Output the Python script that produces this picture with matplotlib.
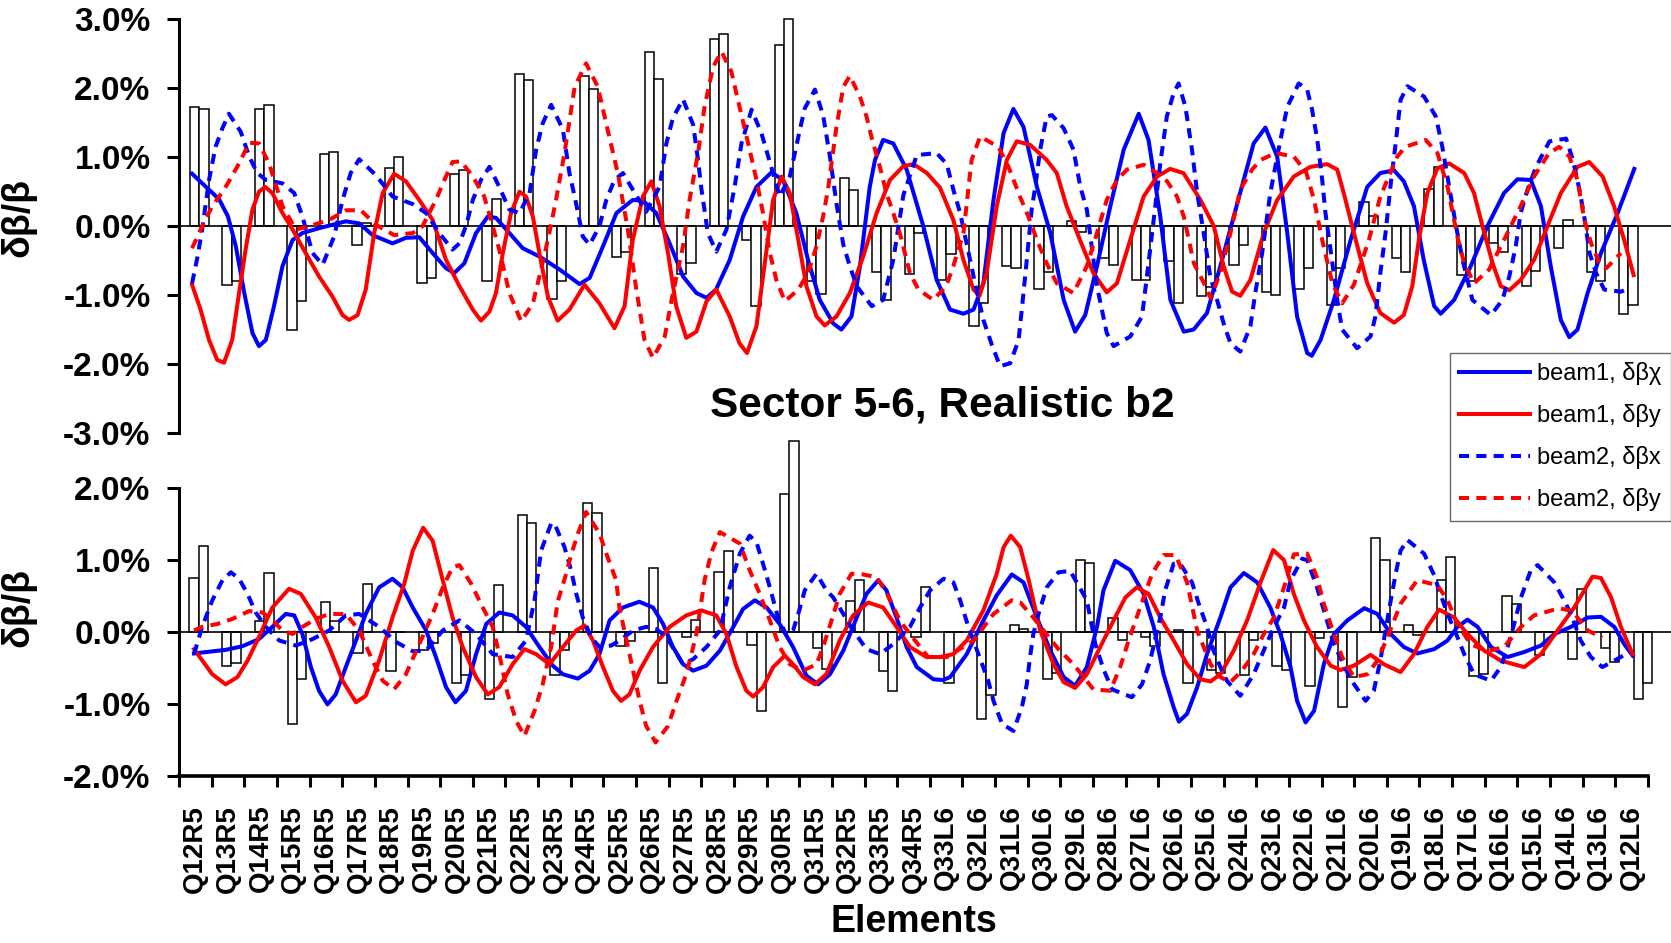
import numpy as np
import matplotlib
matplotlib.use("Agg")
import matplotlib.pyplot as plt
from matplotlib.lines import Line2D

plt.rcParams['font.family'] = ['Liberation Sans', 'DejaVu Sans']

# ---- element names along the sector ----
elements = ["Q12R5", "Q13R5", "Q14R5", "Q15R5", "Q16R5", "Q17R5", "Q18R5", "Q19R5",
            "Q20R5", "Q21R5", "Q22R5", "Q23R5", "Q24R5", "Q25R5", "Q26R5", "Q27R5",
            "Q28R5", "Q29R5", "Q30R5", "Q31R5", "Q32R5", "Q33R5", "Q34R5",
            "Q33L6", "Q32L6", "Q31L6", "Q30L6", "Q29L6", "Q28L6", "Q27L6", "Q26L6",
            "Q25L6", "Q24L6", "Q23L6", "Q22L6", "Q21L6", "Q20L6", "Q19L6", "Q18L6",
            "Q17L6", "Q16L6", "Q15L6", "Q14L6", "Q13L6", "Q12L6"]

# ---- bars (two per element), in % ----
top_bar_a = [1.73, -0.85, 1.70, -1.50, 1.04, -0.27, 0.84, -0.83, 0.75, -0.80, 2.21, -1.05,
             2.18, -0.45, 2.52, -0.69, 2.72, -0.20, 2.63, -0.80, 0.70, -0.67, -0.69, -0.78,
             -1.45, -0.58, -0.91, 0.07, -0.46, -0.78, -0.51, -1.01, -0.57, -0.96, -0.91,
             -1.14, 0.35, -0.46, 0.54, -0.71, -0.25, -0.87, -0.31, -0.67, -1.27]
top_bar_b = [1.70, -0.80, 1.76, -1.09, 1.08, 0.05, 1.00, -0.75, 0.82, 0.39, 2.12, -0.80,
             1.99, -0.38, 2.14, -0.54, 2.79, -1.16, 3.01, -0.98, 0.52, -1.07, -0.10, -0.40,
             -1.12, -0.60, -0.67, -0.08, -0.56, -0.78, -1.12, -0.88, -0.27, -1.00, -0.60,
             -0.60, 0.14, -0.67, 0.86, -0.80, -0.38, -0.65, 0.09, -0.80, -1.14]
bot_bar_a = [0.75, -0.47, 0.15, -1.28, 0.41, -0.29, -0.55, -0.25, -0.71, -0.93, 1.63, -0.60,
             1.79, -0.20, 0.89, -0.07, 0.83, -0.18, 1.92, -0.22, 0.43, -0.55, -0.07, -0.71,
             -1.21, 0.10, -0.66, 1.00, 0.20, -0.07, 0.03, -0.53, -0.60, -0.47, -0.75,
             -1.05, 1.31, 0.10, 0.72, -0.62, 0.50, -0.32, -0.38, -0.23, -0.93]
bot_bar_b = [1.20, -0.43, 0.82, -0.66, 0.15, 0.67, 0.00, -0.16, -0.60, 0.65, 1.52, -0.25,
             1.66, -0.13, -0.71, 0.17, 1.13, -1.10, 2.66, -0.51, 0.72, -0.82, 0.62, 0.00,
             -0.88, 0.04, -0.57, 0.96, -0.11, -0.20, -0.71, -0.57, -0.11, -0.53, -0.09,
             -0.63, 1.00, -0.05, 1.04, -0.58, 0.39, 0.00, 0.60, -0.42, -0.71]

# ---- top panel curves: position along sector (element units), value in % ----
top_b1x_s = [-0.1, 0.73, 1.0, 1.24, 1.5, 1.75, 1.95, 2.16, 2.41, 2.67, 2.98, 3.28, 3.79, 4.61, 5.02,
             5.43, 6.04, 6.45, 6.86, 7.27, 7.68, 7.93, 8.24, 8.6, 8.96, 9.21, 9.62, 10.03, 10.54,
             11.16, 11.77, 12.08, 12.49, 12.9, 13.4, 13.71, 14.12, 14.53, 14.94, 15.35, 15.66,
             15.95, 16.37, 16.78, 17.19, 17.65, 18.0, 18.41, 18.77, 19.13, 19.54, 19.79, 20.1,
             20.36, 20.66, 20.82, 21.07, 21.38, 21.79, 22.3, 22.71, 23.12, 23.53, 23.84, 24.14,
             24.45, 24.76, 25.06, 25.37, 25.78, 26.19, 26.6, 26.95, 27.26, 27.62, 28.03, 28.44,
             28.9, 29.2, 29.56, 29.87, 30.28, 30.58, 30.99, 31.4, 31.81, 32.42, 32.78, 33.14,
             33.45, 33.75, 34.06, 34.2, 34.47, 34.88, 35.39, 35.9, 36.3, 36.72, 37.02, 37.33,
             37.63, 37.95, 38.15, 38.56, 39.07, 39.58, 40.09, 40.5, 40.91, 41.22, 41.52, 41.83,
             42.09, 42.34, 42.65, 43.06, 43.57, 44.08]
top_b1x_v = [0.76, 0.39, 0.14, -0.29, -0.97, -1.55, -1.74, -1.65, -1.16, -0.58, -0.20, -0.10, -0.03,
             0.07, 0.04, -0.13, -0.25, -0.17, -0.16, -0.39, -0.61, -0.68, -0.54, -0.10, 0.14, 0.12,
             -0.10, -0.32, -0.44, -0.63, -0.84, -0.75, -0.29, 0.19, 0.38, 0.37, 0.19, -0.25, -0.73,
             -0.97, -1.04, -0.92, -0.49, 0.14, 0.57, 0.78, 0.67, 0.19, -0.49, -1.07, -1.41, -1.50,
             -1.31, -0.58, 0.57, 0.96, 1.25, 1.20, 0.82, 0.00, -0.78, -1.21, -1.27, -1.21, -0.83,
             0.38, 1.35, 1.70, 1.44, 0.57, -0.10, -1.07, -1.53, -1.29, -0.58, 0.29, 1.11, 1.63,
             1.25, 0.14, -1.07, -1.53, -1.50, -1.26, -0.58, 0.14, 1.20, 1.43, 1.01, -0.10, -1.31,
             -1.84, -1.88, -1.65, -1.07, -0.20, 0.57, 0.77, 0.81, 0.65, 0.29, -0.49, -1.16, -1.27,
             -1.07, -0.58, 0.00, 0.48, 0.68, 0.67, 0.29, -0.58, -1.36, -1.61, -1.50, -0.97, -0.39,
             0.19, 0.83]

top_b1y_s = [-0.1, 0.16, 0.42, 0.67, 0.88, 1.13, 1.34, 1.54, 1.75, 1.95, 2.14, 2.36, 2.67, 2.98,
             3.38, 3.79, 4.2, 4.51, 4.71, 4.97, 5.22, 5.48, 5.74, 6.09, 6.45, 6.86, 7.27, 7.68,
             8.09, 8.5, 8.75, 9.01, 9.21, 9.42, 9.67, 9.93, 10.13, 10.34, 10.54, 10.8, 11.1,
             11.46, 11.92, 12.38, 12.84, 13.15, 13.4, 13.71, 13.97, 14.22, 14.48, 14.73, 15.04,
             15.35, 15.66, 15.96, 16.37, 16.67, 16.9, 17.19, 17.5, 17.7, 17.96, 18.21, 18.47,
             18.72, 19.03, 19.28, 19.64, 20.05, 20.46, 20.87, 21.28, 21.69, 22.0, 22.41, 22.81,
             23.22, 23.53, 23.84, 24.02, 24.24, 24.55, 24.86, 25.16, 25.57, 26.08, 26.39, 26.69,
             27.1, 27.51, 27.92, 28.23, 28.64, 29.05, 29.46, 29.86, 30.27, 30.79, 31.2, 31.5,
             31.76, 32.01, 32.32, 32.73, 33.14, 33.65, 34.16, 34.67, 34.98, 35.18, 35.49, 35.9,
             36.3, 36.72, 37.02, 37.28, 37.48, 37.74, 38.05, 38.41, 38.87, 39.17, 39.43, 39.74,
             39.99, 40.25, 40.6, 41.01, 41.42, 41.83, 42.34, 42.7, 43.11, 43.46, 43.77, 44.06]
top_b1y_v = [-0.85, -1.21, -1.65, -1.94, -1.98, -1.65, -0.97, -0.34, 0.24, 0.50, 0.57, 0.48, 0.19,
             -0.05, -0.39, -0.73, -1.02, -1.29, -1.36, -1.29, -0.92, -0.10, 0.48, 0.76, 0.65, 0.38,
             0.09, -0.49, -0.87, -1.21, -1.37, -1.24, -0.97, -0.39, 0.19, 0.50, 0.43, 0.14, -0.39,
             -1.02, -1.37, -1.21, -0.85, -1.12, -1.48, -1.16, -0.20, 0.43, 0.65, 0.29, -0.39, -1.16,
             -1.62, -1.53, -1.09, -0.92, -1.31, -1.70, -1.84, -1.45, -0.34, 0.38, 0.72, 0.48, -0.20,
             -0.87, -1.31, -1.44, -1.31, -0.97, -0.44, 0.19, 0.67, 0.87, 0.90, 0.77, 0.56, 0.09,
             -0.49, -0.92, -1.01, -0.68, 0.29, 0.96, 1.23, 1.18, 0.96, 0.77, 0.29, -0.20, -0.68,
             -0.96, -0.83, -0.20, 0.43, 0.72, 0.83, 0.77, 0.38, 0.00, -0.58, -0.95, -1.01, -0.78,
             -0.10, 0.38, 0.72, 0.86, 0.90, 0.82, 0.48, -0.10, -0.83, -1.26, -1.40, -1.29, -0.87,
             -0.20, 0.48, 0.84, 0.91, 0.77, 0.48, 0.00, -0.54, -0.87, -0.93, -0.78, -0.49, 0.00,
             0.48, 0.86, 0.93, 0.72, 0.29, -0.20, -0.71]

top_b2x_s = [-0.1, 0.06, 0.21, 0.42, 0.62, 0.83, 1.03, 1.39, 1.65, 1.9, 2.16, 2.67, 3.03, 3.28,
             3.59, 3.9, 4.25, 4.51, 4.76, 5.02, 5.53, 6.04, 6.66, 7.07, 7.47, 7.88, 8.09, 8.29,
             8.5, 8.75, 9.01, 9.31, 9.62, 9.93, 10.24, 10.44, 10.64, 10.9, 11.26, 11.46, 11.62,
             11.87, 12.08, 12.38, 12.59, 12.84, 13.1, 13.4, 13.81, 14.22, 14.43, 14.63, 14.94,
             15.25, 15.4, 15.5, 15.7, 15.96, 16.27, 16.52, 16.73, 17.04, 17.34, 17.55, 17.9,
             18.21, 18.52, 18.67, 18.98, 19.23, 19.44, 19.64, 19.85, 20.05, 20.26, 20.72, 21.07,
             21.38, 21.69, 22.1, 22.71, 23.02, 23.22, 23.43, 23.84, 24.14, 24.4, 24.65, 24.96,
             25.22, 25.32, 25.47, 25.62, 25.73, 25.88, 26.08, 26.24, 26.6, 26.9, 27.11, 27.31,
             27.62, 27.92, 28.13, 28.64, 29.0, 29.25, 29.56, 29.76, 29.97, 30.12, 30.33, 30.53,
             30.69, 30.89, 31.09, 31.3, 31.5, 31.71, 32.01, 32.32, 32.47, 32.68, 32.93, 33.24,
             33.45, 33.8, 34.06, 34.21, 34.37, 34.52, 34.62, 34.83, 34.98, 35.13, 35.59, 36.0,
             36.15, 36.3, 36.46, 36.62, 36.77, 36.92, 37.13, 37.64, 38.0, 38.2, 38.41, 38.62,
             38.82, 39.12, 39.69, 40.04, 40.25, 40.45, 40.6, 40.81, 41.07, 41.48, 41.99, 42.2,
             42.4, 42.53, 42.71, 42.91, 43.16, 43.67, 43.83]
top_b2x_v = [-0.83, -0.46, -0.05, 0.67, 1.15, 1.42, 1.63, 1.37, 1.01, 0.77, 0.67, 0.62, 0.48, 0.14,
             -0.39, -0.56, -0.15, 0.38, 0.77, 0.97, 0.74, 0.43, 0.32, 0.19, -0.10, -0.34, -0.25,
             0.00, 0.38, 0.67, 0.86, 0.57, 0.24, 0.19, 0.48, 1.11, 1.49, 1.76, 1.40, 0.77, 0.43,
             -0.15, -0.27, 0.00, 0.38, 0.67, 0.77, 0.53, 0.21, 0.57, 1.20, 1.57, 1.84, 1.47, 0.96,
             0.55, -0.10, -0.37, -0.05, 0.57, 1.20, 1.69, 1.35, 1.01, 0.43, 0.72, 1.40, 1.71, 1.98,
             1.61, 1.01, 0.33, -0.27, -0.58, -0.87, -1.16, -1.07, -0.49, 0.45, 1.03, 1.06, 0.90,
             0.53, 0.19, -0.73, -1.36, -1.72, -2.03, -1.99, -1.65, -1.20, -0.49, 0.24, 0.57, 1.11,
             1.59, 1.61, 1.42, 1.11, 0.57, 0.24, -0.87, -1.55, -1.74, -1.60, -1.31, -0.34, 0.91,
             1.59, 1.93, 2.07, 1.73, 1.11, 0.48, -0.10, -0.73, -1.07, -1.41, -1.70, -1.82, -1.45,
             -0.97, -0.39, 0.48, 1.25, 1.73, 2.07, 1.98, 1.69, 1.25, 0.67, 0.19, -0.53, -1.07,
             -1.50, -1.77, -1.60, -1.31, -0.68, -0.10, 0.62, 1.20, 1.83, 2.03, 1.88, 1.59, 1.15,
             0.57, 0.00, -0.49, -1.07, -1.29, -1.07, -0.73, -0.29, 0.19, 0.53, 0.86, 1.23, 1.27,
             0.96, 0.53, 0.19, -0.39, -0.68, -0.92, -0.95, -0.92]

top_b2y_s = [-0.1, 0.21, 0.52, 0.88, 1.03, 1.34, 1.65, 1.95, 2.26, 2.67, 3.08, 3.49, 4.1, 4.61,
             5.07, 5.53, 6.09, 6.66, 6.96, 7.37, 7.63, 7.88, 8.14, 8.5, 8.85, 9.11, 9.31, 9.62,
             9.98, 10.34, 10.54, 10.8, 11.05, 11.31, 11.62, 11.97, 12.33, 12.63, 12.94, 13.25,
             13.51, 13.76, 14.02, 14.38, 14.63, 14.94, 15.14, 15.4, 15.6, 15.86, 16.12, 16.42,
             16.73, 16.98, 17.19, 17.39, 17.6, 17.8, 18.06, 18.47, 18.77, 19.03, 19.23, 19.38,
             19.64, 19.85, 20.05, 20.36, 20.56, 20.72, 20.97, 21.17, 21.38, 21.58, 21.89, 22.15,
             22.61, 23.0, 23.22, 23.53, 23.78, 24.04, 24.6, 24.91, 25.26, 25.52, 25.78, 26.08,
             26.39, 26.9, 27.31, 27.62, 27.92, 28.23, 28.54, 29.05, 29.46, 29.77, 30.07, 30.28,
             30.59, 30.9, 31.1, 31.4, 31.71, 32.01, 32.37, 32.63, 33.09, 33.65, 34.03, 34.27,
             34.52, 34.83, 35.13, 35.49, 35.95, 36.3, 36.82, 37.07, 37.69, 38.05, 38.36, 38.66,
             38.87, 39.17, 39.63, 40.09, 40.6, 41.01, 41.47, 41.78, 42.09, 42.34, 42.55, 42.76,
             43.01, 43.22, 43.67]
top_b2y_v = [-0.32, 0.00, 0.29, 0.53, 0.65, 0.91, 1.21, 1.20, 0.91, 0.29, -0.05, 0.00, 0.09, 0.23,
             0.23, 0.02, -0.13, -0.10, 0.00, 0.38, 0.67, 0.93, 0.94, 0.72, 0.43, 0.00, -0.34, -0.97,
             -1.38, -1.12, -0.73, -0.20, 0.38, 1.06, 2.02, 2.36, 2.02, 1.40, 0.77, -0.05, -0.92,
             -1.65, -1.91, -1.60, -0.97, -0.29, 0.38, 1.06, 1.73, 2.31, 2.53, 2.24, 1.61, 1.11,
             0.67, 0.19, -0.39, -0.78, -1.09, -0.92, -0.68, -0.29, 0.14, 0.53, 1.44, 2.02, 2.18,
             1.88, 1.59, 1.28, 0.86, 0.48, 0.19, -0.10, -0.68, -0.92, -1.07, -0.87, -0.58, -0.10,
             0.96, 1.30, 1.15, 0.86, 0.43, 0.14, -0.20, -0.54, -0.83, -0.97, -0.58, -0.10, 0.38,
             0.67, 0.82, 0.89, 0.77, 0.65, 0.43, 0.14, -0.54, -0.83, -1.04, -0.68, -0.10, 0.53,
             0.82, 0.96, 1.06, 1.01, 0.78, 0.38, -0.20, -0.83, -1.12, -0.85, -0.20, 0.43, 1.01,
             1.15, 1.25, 1.06, 0.57, -0.15, -0.54, -0.83, -0.63, -0.20, 0.29, 0.72, 1.06, 1.15,
             1.01, 0.67, 0.09, -0.25, -0.54, -0.61, -0.39]

# ---- bottom panel curves ----
bot_b1x_s = [-0.04, 0.93, 1.44, 1.95, 2.36, 2.77, 3.03, 3.28, 3.54, 3.79, 4.05, 4.3, 4.61, 4.92,
             5.22, 5.63, 6.04, 6.35, 6.66, 7.07, 7.37, 7.68, 7.97, 8.29, 8.6, 8.91, 9.31, 9.72,
             10.13, 10.54, 10.95, 11.26, 11.72, 12.08, 12.38, 12.69, 13.1, 13.6, 14.02, 14.33,
             14.63, 14.94, 15.25, 15.66, 16.07, 16.48, 16.78, 17.14, 17.5, 17.9, 18.31, 18.72,
             19.08, 19.44, 19.85, 20.26, 20.56, 20.92, 21.17, 21.48, 21.79, 22.1, 22.61, 22.9,
             23.12, 23.63, 24.14, 24.55, 25.01, 25.37, 25.78, 26.19, 26.6, 26.95, 27.31, 27.62,
             27.82, 28.18, 28.64, 29.05, 29.36, 29.66, 29.97, 30.13, 30.38, 30.69, 30.99, 31.4,
             31.71, 32.12, 32.53, 32.93, 33.24, 33.55, 33.75, 34.01, 34.27, 34.57, 34.88, 35.29,
             35.81, 36.21, 36.62, 37.02, 37.43, 37.95, 38.36, 38.66, 38.97, 39.28, 39.69, 40.2,
             40.71, 41.22, 41.63, 42.14, 42.65, 43.06, 43.47, 43.77, 44.03]
bot_b1x_v = [-0.30, -0.25, -0.20, -0.10, 0.07, 0.25, 0.23, -0.03, -0.49, -0.82, -1.01, -0.87, -0.49,
             -0.12, 0.25, 0.62, 0.74, 0.62, 0.34, 0.02, -0.35, -0.77, -0.98, -0.82, -0.31, 0.11,
             0.27, 0.23, 0.07, -0.21, -0.47, -0.59, -0.65, -0.54, -0.31, 0.16, 0.34, 0.42, 0.34,
             0.11, -0.21, -0.45, -0.54, -0.47, -0.26, 0.07, 0.32, 0.44, 0.34, 0.11, -0.21, -0.61,
             -0.73, -0.59, -0.26, 0.20, 0.53, 0.72, 0.58, 0.20, -0.21, -0.49, -0.66, -0.67, -0.63,
             -0.31, 0.16, 0.51, 0.80, 0.69, 0.20, -0.26, -0.63, -0.75, -0.49, 0.07, 0.58, 0.99,
             0.86, 0.53, 0.07, -0.59, -1.05, -1.25, -1.14, -0.77, -0.31, 0.20, 0.62, 0.82, 0.69,
             0.34, -0.03, -0.49, -0.96, -1.26, -1.10, -0.45, -0.03, 0.16, 0.33, 0.25, -0.03, -0.21,
             -0.30, -0.24, -0.12, 0.07, 0.17, 0.07, -0.21, -0.35, -0.28, -0.19, -0.03, 0.07, 0.20,
             0.21, 0.07, -0.17, -0.33]

bot_b1y_s = [-0.04, 0.52, 0.93, 1.29, 1.6, 1.95, 2.36, 2.87, 3.23, 3.69, 4.1, 4.51, 4.92, 5.22,
             5.63, 6.04, 6.4, 6.66, 6.98, 7.27, 7.58, 7.88, 8.19, 8.6, 8.96, 9.31, 9.72, 10.08,
             10.44, 10.85, 11.26, 11.67, 11.92, 12.18, 12.49, 12.79, 13.04, 13.3, 13.61, 14.02,
             14.53, 15.04, 15.5, 15.96, 16.27, 16.58, 16.88, 17.09, 17.39, 17.7, 18.06, 18.31,
             18.62, 18.98, 19.33, 19.74, 20.15, 20.61, 21.07, 21.48, 21.89, 22.4, 22.81, 23.22,
             23.63, 24.14, 24.55, 24.76, 24.98, 25.27, 25.53, 25.88, 26.29, 26.6, 26.95, 27.31,
             27.72, 28.13, 28.49, 28.84, 29.2, 29.56, 29.97, 30.38, 30.79, 31.1, 31.4, 31.81,
             32.22, 32.63, 33.02, 33.35, 33.65, 33.96, 34.36, 34.78, 35.08, 35.49, 36.0, 36.41,
             36.92, 37.33, 37.74, 38.1, 38.56, 38.97, 39.48, 39.99, 40.71, 41.22, 41.73, 42.24,
             42.8, 43.06, 43.37, 43.67, 44.03]
bot_b1y_v = [-0.24, -0.59, -0.73, -0.63, -0.40, -0.07, 0.34, 0.60, 0.53, 0.20, -0.21, -0.68, -0.98,
             -0.89, -0.40, 0.20, 0.67, 1.13, 1.45, 1.27, 0.72, 0.20, -0.21, -0.63, -0.87, -0.77,
             -0.45, -0.24, -0.31, -0.45, -0.21, 0.02, 0.09, -0.12, -0.49, -0.82, -0.96, -0.87,
             -0.54, -0.21, 0.07, 0.23, 0.30, 0.23, -0.03, -0.49, -0.82, -0.90, -0.77, -0.49, -0.33,
             -0.45, -0.63, -0.73, -0.59, -0.12, 0.23, 0.41, 0.34, 0.07, -0.21, -0.35, -0.35, -0.31,
             -0.12, 0.30, 0.81, 1.18, 1.34, 1.18, 0.72, 0.02, -0.45, -0.70, -0.78, -0.59, -0.21,
             0.16, 0.48, 0.62, 0.53, 0.20, -0.12, -0.45, -0.66, -0.69, -0.59, -0.26, 0.16, 0.69,
             1.14, 1.00, 0.53, 0.16, -0.21, -0.47, -0.53, -0.47, -0.32, -0.45, -0.56, -0.31, 0.07,
             0.31, 0.20, -0.03, -0.26, -0.40, -0.49, -0.31, 0.02, 0.34, 0.77, 0.75, 0.48, 0.07,
             -0.31]

bot_b2x_s = [-0.04, 0.21, 0.52, 0.83, 1.09, 1.34, 1.6, 1.85, 2.16, 2.57, 3.08, 3.59, 4.1, 4.61,
             5.02, 5.63, 6.15, 6.66, 7.07, 7.58, 8.09, 8.6, 9.11, 9.72, 10.13, 10.39, 10.59, 10.9,
             11.0, 11.31, 11.51, 11.67, 11.87, 12.13, 12.38, 12.74, 13.0, 13.41, 13.81, 14.12,
             14.43, 14.94, 15.25, 15.66, 16.07, 16.37, 16.68, 16.98, 17.19, 17.39, 17.6, 17.85,
             18.11, 18.31, 18.47, 18.67, 19.03, 19.33, 19.54, 19.85, 20.15, 20.56, 20.97, 21.38,
             21.89, 22.2, 22.51, 22.92, 23.22, 23.43, 23.68, 23.99, 24.29, 24.45, 24.71, 25.06,
             25.32, 25.47, 25.57, 25.67, 25.83, 26.08, 26.44, 26.8, 27.31, 27.57, 27.82, 28.08,
             28.69, 29.0, 29.25, 29.56, 29.71, 29.97, 30.17, 30.53, 30.74, 30.99, 31.19, 31.4,
             31.6, 32.01, 32.42, 32.68, 32.99, 33.35, 33.55, 33.91, 34.06, 34.36, 34.57, 34.88,
             35.39, 35.85, 36.1, 36.3, 36.46, 36.62, 36.77, 36.92, 37.13, 37.64, 37.95, 38.1,
             38.36, 38.66, 38.87, 39.17, 39.69, 39.99, 40.2, 40.4, 40.61, 40.91, 41.12, 41.63,
             41.93, 42.14, 42.44, 42.75, 43.1, 43.47, 43.82]
bot_b2x_v = [-0.31, 0.07, 0.44, 0.72, 0.83, 0.74, 0.53, 0.27, 0.07, -0.12, -0.19, -0.10, 0.02, 0.23,
             0.25, 0.07, -0.14, -0.27, -0.26, 0.02, 0.16, -0.03, -0.31, -0.35, -0.12, 0.44, 1.13,
             1.51, 1.51, 1.18, 0.86, 0.53, 0.20, -0.08, -0.21, -0.19, -0.12, 0.02, 0.07, 0.04,
             -0.07, -0.45, -0.38, -0.21, 0.02, 0.62, 1.09, 1.34, 1.25, 0.95, 0.62, 0.20, -0.05,
             0.02, 0.25, 0.58, 0.81, 0.58, 0.48, 0.25, 0.02, -0.24, -0.31, -0.17, 0.07, 0.34, 0.58,
             0.74, 0.69, 0.44, 0.07, -0.31, -0.68, -0.96, -1.28, -1.38, -1.05, -0.73, -0.35, -0.03,
             0.25, 0.62, 0.83, 0.85, 0.44, -0.17, -0.52, -0.80, -0.91, -0.73, -0.40, 0.20, 0.58,
             0.95, 0.95, 0.69, 0.39, 0.07, -0.26, -0.49, -0.68, -0.89, -0.59, -0.31, 0.02, 0.34,
             0.72, 1.02, 1.00, 0.62, 0.30, -0.17, -0.66, -0.96, -0.82, -0.40, 0.02, 0.44, 0.81,
             1.13, 1.28, 1.09, 0.79, 0.58, 0.25, -0.07, -0.31, -0.59, -0.68, -0.49, -0.21, 0.11,
             0.48, 0.86, 0.93, 0.69, 0.44, 0.25, -0.12, -0.35, -0.49, -0.40, -0.31]

bot_b2y_s = [-0.04, 0.21, 0.67, 1.13, 1.65, 2.06, 2.36, 2.67, 2.98, 3.28, 3.69, 4.1, 4.61, 5.02,
             5.43, 5.74, 6.09, 6.45, 6.86, 7.27, 7.58, 7.88, 8.09, 8.45, 8.75, 9.11, 9.31, 9.57,
             9.83, 10.08, 10.39, 10.64, 10.9, 11.1, 11.36, 11.51, 11.72, 11.97, 12.38, 12.63,
             12.89, 12.99, 13.3, 13.61, 13.81, 14.1, 14.48, 14.78, 15.04, 15.35, 15.6, 15.81,
             16.07, 16.68, 16.98, 17.29, 17.6, 17.9, 18.21, 18.62, 19.03, 19.23, 19.49, 19.74,
             20.1, 20.46, 20.87, 21.17, 21.58, 21.89, 22.45, 23.02, 23.84, 24.45, 25.01, 25.27,
             25.67, 26.44, 26.9, 27.51, 28.03, 28.33, 28.59, 29.05, 29.31, 29.66, 30.03, 30.38,
             30.69, 31.1, 31.4, 31.71, 32.06, 32.42, 32.73, 33.04, 33.35, 33.65, 34.06, 34.36,
             34.57, 34.88, 35.13, 35.49, 35.9, 36.21, 36.56, 36.92, 37.43, 38.05, 38.36, 38.66,
             39.07, 39.58, 40.09, 40.61, 41.01, 41.78, 42.19, 42.65, 43.1]
bot_b2y_v = [0.02, 0.07, 0.11, 0.18, 0.29, 0.27, 0.16, 0.02, -0.03, 0.07, 0.18, 0.25, 0.25, 0.02,
             -0.40, -0.68, -0.80, -0.59, -0.17, 0.25, 0.62, 0.90, 0.93, 0.67, 0.39, 0.07, -0.31,
             -0.87, -1.24, -1.45, -1.10, -0.73, -0.21, 0.42, 0.81, 1.07, 1.37, 1.67, 1.37, 1.04,
             0.72, 0.34, -0.31, -0.96, -1.31, -1.54, -1.31, -0.91, -0.59, -0.03, 0.72, 1.11, 1.39,
             1.23, 0.86, 0.53, 0.16, -0.21, -0.45, -0.54, -0.45, -0.21, 0.16, 0.53, 0.81, 0.80,
             0.76, 0.55, 0.16, -0.03, -0.35, -0.35, -0.12, 0.25, 0.44, 0.41, 0.20, -0.24, -0.45,
             -0.80, -0.82, -0.49, -0.12, 0.48, 0.81, 1.07, 1.07, 0.69, 0.02, -0.45, -0.63, -0.70,
             -0.54, -0.31, -0.03, 0.20, 0.62, 1.08, 1.09, 0.76, 0.39, -0.03, -0.35, -0.63, -0.59,
             -0.40, -0.03, 0.39, 0.72, 0.65, 0.44, 0.11, -0.17, -0.27, -0.21, 0.07, 0.23, 0.33,
             0.29, 0.02, -0.08]

top_yticks = [-3, -2, -1, 0, 1, 2, 3]
bot_yticks = [-2, -1, 0, 1, 2]

# ---- figure ----
W, H = 1671, 943
fig = plt.figure(figsize=(W / 100, H / 100), dpi=100)

ax_left = 179 / W
ax_w = (1648 - 179) / W
ax_top = fig.add_axes([ax_left, (H - 433) / H, ax_w, (433 - 19.3) / H])
ax_bot = fig.add_axes([ax_left, (H - 775.5) / H, ax_w, (775.5 - 488.3) / H])

blue = (0, 0, 1)
red = (1, 0, 0)
dash = (0, (2.5, 1.8))
lw = 2.9
bar_w = 0.285
n = len(elements)
idx = np.arange(n)


def draw_panel(ax, bars_a, bars_b, centers, curves, yticks):
    ax.bar(centers - bar_w / 2, bars_a, width=bar_w, color='white', edgecolor='black',
           linewidth=1.1, zorder=2, clip_on=False)
    ax.bar(centers + bar_w / 2, bars_b, width=bar_w, color='white', edgecolor='black',
           linewidth=1.1, zorder=2, clip_on=False)
    ax.axhline(0, xmin=0, xmax=(W - 179) / (1648 - 179), color='black', lw=1.2,
               zorder=3, clip_on=False)
    for s, v, col, ls in curves:
        ax.plot(s, v, color=col, lw=lw, ls=ls, zorder=4, solid_joinstyle='round',
                dash_capstyle='butt')
    ax.set_xlim(-0.5, n - 0.5)
    ax.set_ylim(yticks[0], yticks[-1])
    ax.set_yticks(yticks)
    ax.set_yticklabels([f"{t:.1f}%" for t in yticks], fontsize=24, fontweight='bold')
    ax.tick_params(axis='y', direction='out', length=8.5, width=2.2, pad=12)
    for side in ['top', 'right']:
        ax.spines[side].set_visible(False)
    ax.spines['left'].set_linewidth(2.2)
    ax.set_facecolor('none')


draw_panel(ax_top, top_bar_a, top_bar_b, idx * 0.995 + 0.12,
           [(top_b1x_s, top_b1x_v, blue, '-'), (top_b1y_s, top_b1y_v, red, '-'),
            (top_b2x_s, top_b2x_v, blue, dash), (top_b2y_s, top_b2y_v, red, dash)],
           top_yticks)
draw_panel(ax_bot, bot_bar_a, bot_bar_b, idx * 1.0055 + 0.1,
           [(bot_b1x_s, bot_b1x_v, blue, '-'), (bot_b1y_s, bot_b1y_v, red, '-'),
            (bot_b2x_s, bot_b2x_v, blue, dash), (bot_b2y_s, bot_b2y_v, red, dash)],
           bot_yticks)

# top panel has no visible category axis
ax_top.spines['bottom'].set_visible(False)
ax_top.set_xticks([])

# bottom panel category axis: ticks between elements, labels at centres
ax_bot.spines['bottom'].set_linewidth(2.6)
ax_bot.set_xticks(idx)
ax_bot.set_xticklabels(elements, rotation=90, fontsize=20, fontweight='bold')
ax_bot.set_xticks(np.arange(n + 1) - 0.5, minor=True)
ax_bot.tick_params(axis='x', which='major', length=0, pad=21)
ax_bot.tick_params(axis='x', which='minor', direction='out', length=8, width=2.2)
ax_bot.set_xlabel("Elements", fontsize=27, fontweight='bold', labelpad=8)

for ax, ycen in [(ax_top, 0.52), (ax_bot, 0.585)]:
    ax.set_ylabel("δβ/β", fontsize=27, fontweight='bold')
    ax.yaxis.set_label_coords((36 - 179) / (1648 - 179), ycen)

fig.text(942 / W, 1 - 405 / H, "Sector 5-6, Realistic b2", ha='center', va='center',
         fontsize=30.5, fontweight='bold')

handles = [Line2D([], [], color=blue, lw=lw, ls='-'),
           Line2D([], [], color=red, lw=lw, ls='-'),
           Line2D([], [], color=blue, lw=lw, ls=dash),
           Line2D([], [], color=red, lw=lw, ls=dash)]
labels = ["beam1, δβχ", "beam1, δβy", "beam2, δβx", "beam2, δβy"]
leg = fig.legend(handles, labels, loc='upper left', bbox_to_anchor=(1450 / W, 1 - 353 / H),
                 fontsize=17, frameon=True, fancybox=False, shadow=False,
                 handlelength=3.0, handletextpad=0.3, borderpad=0.4, labelspacing=0.8,
                 borderaxespad=0)
leg.get_frame().set_edgecolor('#444444')
leg.get_frame().set_linewidth(1.0)

fig.savefig("out.png", dpi=100)
